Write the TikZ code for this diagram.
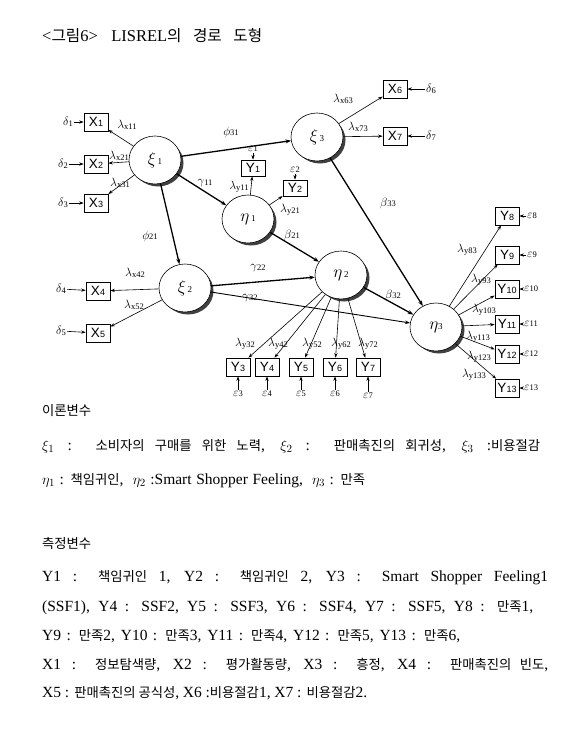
\documentclass[tikz,border=0pt]{standalone}
\usepackage{fontspec}
\setmainfont{Liberation Serif}
\newfontfamily\kofont[Scale=0.86]{Noto Sans CJK KR}
\newfontfamily\kotitle[Scale=0.95]{Noto Sans CJK KR}
\newfontfamily\sansf{Liberation Sans}
\usetikzlibrary{arrows.meta,shapes.geometric}
\newcommand\ko[1]{{\kofont #1}}
\newcommand\kt[1]{{\kotitle #1}}
\newcommand\fs[1]{\fontsize{#1}{#1}\selectfont}
\newcommand\lab[2]{{\fs{12.5}$#1$}{\fs{8.5}\raisebox{-0.8pt}{#2}}}
\newcommand\ob[2]{{\sansf\fs{13.5}#1{\fs{9}#2}}}
\newcommand\latent[4]{%
  \fill[black!75] (#2+3,#3+3) ellipse [x radius=25.5, y radius=23.5];
  \node[lat] (#1) at (#2,#3) {#4};}
\tikzset{
  lat/.style={ellipse, draw, fill=white, minimum width=52pt, minimum height=48pt, inner sep=0pt, line width=0.6pt},
  obs/.style={draw, rectangle, minimum width=24pt, minimum height=18pt, inner sep=0pt, line width=0.7pt},
  gr/.style={inner sep=0pt},
  err/.style={inner sep=1pt},
  thinA/.style={line width=0.6pt, -{Stealth[length=4.5pt,width=3.2pt]}},
  midA/.style={line width=0.9pt, -{Stealth[length=5pt,width=3.6pt]}},
  thickA/.style={line width=1.3pt, -{Stealth[length=5.5pt,width=4pt]}},
  txt/.style={anchor=base west, inner sep=0pt, font=\fs{15.5}},
}
\begin{document}
\begin{tikzpicture}[x=1pt,y=-1pt]
\fill[white] (0,0) rectangle (587,734);
\useasboundingbox (0,0) rectangle (587,734);

% ---------- latent variables ----------
\latent{xi1}{155}{160}{{\fs{16}$\xi$}\,{\fs{9}1}}
\latent{xi3}{317}{137}{{\fs{16}$\xi$}\,{\fs{9}3}}
\latent{eta1}{248}{219}{{\fs{16}$\eta$}\,{\fs{9}1}}
\latent{xi2}{185}{288}{{\fs{16}$\xi$}\,{\fs{9}2}}
\latent{eta2}{341}{275}{{\fs{16}$\eta$}\,{\fs{9}2}}
\latent{eta3}{436}{327}{{\fs{16}$\eta$}{\fs{9}3}}

% ---------- observed variables ----------
\node[obs] (X1) at (96,122) {\ob{X}{1}};
\node[obs] (X2) at (96,164) {\ob{X}{2}};
\node[obs] (X3) at (96,203) {\ob{X}{3}};
\node[obs] (X4) at (98,291) {\ob{X}{4}};
\node[obs] (X5) at (98,333) {\ob{X}{5}};
\node[obs] (X6) at (395,89) {\ob{X}{6}};
\node[obs] (X7) at (395,136) {\ob{X}{7}};
\node[obs, minimum height=16pt] (Y1) at (253,168) {\ob{Y}{1}};
\node[obs, minimum height=16pt] (Y2) at (295,188) {\ob{Y}{2}};
\node[obs] (Y3) at (238,367) {\ob{Y}{3}};
\node[obs] (Y4) at (267,367) {\ob{Y}{4}};
\node[obs] (Y5) at (301,367) {\ob{Y}{5}};
\node[obs] (Y6) at (335,367) {\ob{Y}{6}};
\node[obs] (Y7) at (368,367) {\ob{Y}{7}};
\node[obs] (Y8) at (507,216) {\ob{Y}{8}};
\node[obs] (Y9) at (507,255) {\ob{Y}{9}};
\node[obs] (Y10) at (507,289) {\ob{Y}{10}};
\node[obs] (Y11) at (507,324) {\ob{Y}{11}};
\node[obs] (Y12) at (507,354) {\ob{Y}{12}};
\node[obs] (Y13) at (507,388) {\ob{Y}{13}};

% ---------- error terms ----------
\node[err] (d1) at (68,122) {\lab{\delta}{1}};
\node[err] (d2) at (63,164) {\lab{\delta}{2}};
\node[err] (d3) at (63,203) {\lab{\delta}{3}};
\node[err] (d4) at (61,289) {\lab{\delta}{4}};
\node[err] (d5) at (61,331) {\lab{\delta}{5}};
\node[err] (d6) at (431,89) {\lab{\delta}{6}};
\node[err] (d7) at (431,136) {\lab{\delta}{7}};
\node[err] (e1) at (253,149) {\lab{\varepsilon}{1}};
\node[err] (e2) at (295,170) {\lab{\varepsilon}{2}};
\node[err] (e3) at (238,394) {\lab{\varepsilon}{3}};
\node[err] (e4) at (267,394) {\lab{\varepsilon}{4}};
\node[err] (e5) at (301,394) {\lab{\varepsilon}{5}};
\node[err] (e6) at (335,394) {\lab{\varepsilon}{6}};
\node[err] (e7) at (368,396) {\lab{\varepsilon}{7}};
\node[err, anchor=west] (e8) at (526,216) {\lab{\varepsilon}{8}};
\node[err, anchor=west] (e9) at (526,255) {\lab{\varepsilon}{9}};
\node[err, anchor=west] (e10) at (523,289) {\lab{\varepsilon}{10}};
\node[err, anchor=west] (e11) at (523,324) {\lab{\varepsilon}{11}};
\node[err, anchor=west] (e12) at (523,354) {\lab{\varepsilon}{12}};
\node[err, anchor=west] (e13) at (523,388) {\lab{\varepsilon}{13}};

% ---------- structural paths ----------
\draw[thickA] (xi1) -- (xi3);
\draw[thickA] (xi1) -- (xi2);
\draw[thickA] (xi1) -- (eta1);
\draw[thickA] (eta1) -- (eta2);
\draw[thickA] (xi3) -- (eta3);
\draw[thickA] (eta2) -- (eta3);
\draw[thickA] (xi2) -- (eta2);
\draw[midA] (xi2) -- (eta3);

% ---------- loadings ----------
\foreach \o in {X1,X2,X3} \draw[thinA] (xi1) -- (\o);
\foreach \o in {X4,X5} \draw[thinA] (xi2) -- (\o);
\foreach \o in {X6,X7} \draw[thinA] (xi3) -- (\o);
\foreach \o in {Y1,Y2} \draw[thinA] (eta1) -- (\o);
\foreach \o in {Y3,Y4,Y5,Y6,Y7} \draw[thinA] (eta2) -- (\o);
\foreach \o in {Y8,Y9,Y10,Y11,Y12,Y13} \draw[thinA] (eta3) -- (\o);

% ---------- error arrows ----------
\foreach \e/\o in {d1/X1,d2/X2,d3/X3,d4/X4,d5/X5,d6/X6,d7/X7,e1/Y1,e2/Y2,e3/Y3,e4/Y4,e5/Y5,e6/Y6,e7/Y7,e8/Y8,e9/Y9,e10/Y10,e11/Y11,e12/Y12,e13/Y13}
  \draw[thinA] (\e) -- (\o);

% ---------- path labels ----------
\node[gr] at (127,125) {\lab{\lambda}{x11}};
\node[gr] at (119,156) {\lab{\lambda}{x21}};
\node[gr] at (120,183) {\lab{\lambda}{x31}};
\node[gr] at (231,132) {\lab{\phi}{31}};
\node[gr] at (205,183) {\lab{\gamma}{11}};
\node[gr] at (150,236) {\lab{\phi}{21}};
\node[gr] at (239,187) {\lab{\lambda}{y11}};
\node[gr] at (290,210) {\lab{\lambda}{y21}};
\node[gr] at (292,235) {\lab{\beta}{21}};
\node[gr] at (343,99) {\lab{\lambda}{x63}};
\node[gr] at (358,127) {\lab{\lambda}{x73}};
\node[gr] at (388,203) {\lab{\beta}{33}};
\node[gr] at (135,273) {\lab{\lambda}{x42}};
\node[gr] at (134,305) {\lab{\lambda}{x52}};
\node[gr] at (258,268) {\lab{\gamma}{22}};
\node[gr] at (250,298) {\lab{\gamma}{32}};
\node[gr] at (393,295) {\lab{\beta}{32}};
\node[gr] at (245,344) {\lab{\lambda}{y32}};
\node[gr] at (278,344) {\lab{\lambda}{y42}};
\node[gr] at (312,344) {\lab{\lambda}{y52}};
\node[gr] at (341,344) {\lab{\lambda}{y62}};
\node[gr] at (368,344) {\lab{\lambda}{y72}};
\node[gr] at (467,250) {\lab{\lambda}{y83}};
\node[gr] at (481,280) {\lab{\lambda}{y93}};
\node[gr] at (484,310) {\lab{\lambda}{y103}};
\node[gr] at (478,337) {\lab{\lambda}{y113}};
\node[gr] at (479,357) {\lab{\lambda}{y123}};
\node[gr] at (474,375) {\lab{\lambda}{y133}};

% ---------- text ----------
\node[txt, font=\fs{16.5}] (title) at (42,41) {\makebox[220pt][s]{<\kt{그림}6> LISREL\kt{의 경로 도형}}};
\node[txt] (h1) at (42,415) {\ko{이론변수}};
\node[txt] (l1) at (42,450) {\makebox[498pt][s]{$\xi_1$ : \ko{소비자의 구매를 위한 노력}, $\xi_2$ : \ko{판매촉진의 회귀성}, $\xi_3$ :\ko{비용절감}}};
\node[txt] (l2) at (42,484) {\makebox[323pt][s]{$\eta_1$ : \ko{책임귀인},\ \ $\eta_2$ :Smart Shopper Feeling,\ \ $\eta_3$ : \ko{만족}}};
\node[txt] (h2) at (42,548) {\ko{측정변수}};
\node[txt] (l3) at (42,581) {\makebox[506pt][s]{Y1 : \ko{책임귀인} 1, Y2 : \ko{책임귀인} 2, Y3 : Smart Shopper Feeling1}};
\node[txt] (l4) at (42,611) {\makebox[491pt][s]{(SSF1), Y4 : SSF2, Y5 : SSF3, Y6 : SSF4, Y7 : SSF5, Y8 : \ko{만족}1,}};
\node[txt] (l5) at (42,640) {\makebox[418pt][s]{Y9 : \ko{만족}2, Y10 : \ko{만족}3, Y11 : \ko{만족}4, Y12 : \ko{만족}5, Y13 : \ko{만족}6,}};
\node[txt] (l6) at (42,669) {\makebox[506pt][s]{X1 : \ko{정보탐색량}, X2 : \ko{평가활동량}, X3 : \ko{흥정}, X4 : \ko{판매촉진의 빈도},}};
\node[txt] (l7) at (42,697) {\makebox[325pt][s]{X5 : \ko{판매촉진의 공식성}, X6 :\ko{비용절감}1, X7 : \ko{비용절감}2.}};
\end{tikzpicture}
\end{document}
